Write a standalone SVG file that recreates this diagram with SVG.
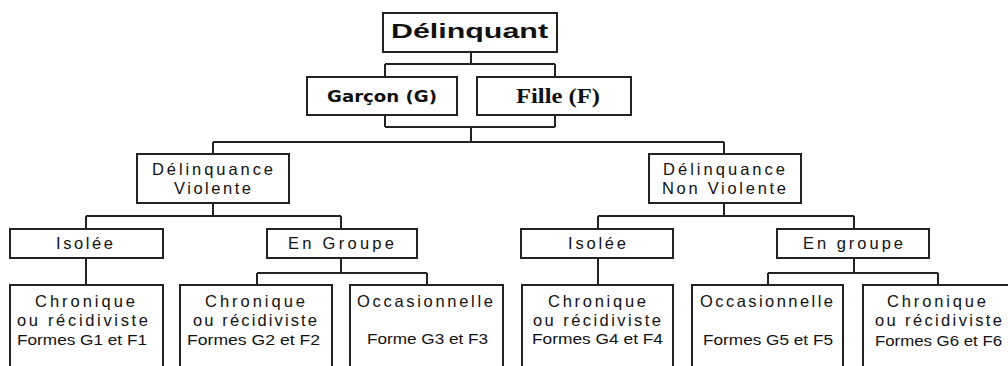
<svg xmlns="http://www.w3.org/2000/svg" width="1008" height="366" viewBox="0 0 1008 366">
<style>
.box{fill:#fff;stroke:#222;stroke-width:2}
.c{fill:none;stroke:#222;stroke-width:2}
text{font-family:"Liberation Sans",Arial,sans-serif;fill:#111;text-anchor:middle}
.t{font-size:16.5px}
.s{font-size:14px}
.h{font-family:"Liberation Sans",Arial,sans-serif;font-weight:bold;font-size:21px}
.g{font-family:"DejaVu Sans",sans-serif;font-weight:bold;font-size:16px}
.f{font-family:"Liberation Serif","Times New Roman",serif;font-weight:bold;font-size:20px}
</style>
<rect width="1008" height="366" fill="#fff"/>
<g id="connectors">
<path class="c" d="M471 52V64M385 64H555M385 64V77M555 64V77"/>
<path class="c" d="M385 115V127M555 115V127M385 127H555M471 127V142"/>
<path class="c" d="M213 142H724M213 142V154M724 142V154"/>
<path class="c" d="M213 203V216M86 216H341M86 216V229M341 216V229"/>
<path class="c" d="M724 203V216M598 216H854M598 216V229M854 216V229"/>
<path class="c" d="M86 258V285M598 258V285"/>
<path class="c" d="M341 258V273M257 273H427M257 273V285M427 273V285"/>
<path class="c" d="M854 258V273M768 273H938M768 273V285M938 273V285"/>
</g>
<g id="delinquant"><rect class="box" x="383" y="13" width="174" height="39"/><text class="h" x="469.5" y="38" textLength="157" lengthAdjust="spacingAndGlyphs">Délinquant</text></g>
<g id="garcon"><rect class="box" x="307" y="77" width="150" height="38"/><text class="g" x="382" y="102" textLength="110" lengthAdjust="spacingAndGlyphs">Garçon (G)</text></g>
<g id="fille"><rect class="box" x="477" y="77" width="154" height="38"/><text class="f" x="558" y="103" textLength="84" lengthAdjust="spacingAndGlyphs">Fille (F)</text></g>
<g id="violente"><rect class="box" x="137" y="154" width="152" height="49"/><text class="t" x="212.5" y="175" textLength="121" lengthAdjust="spacing">Délinquance</text><text class="t" x="212.5" y="194" textLength="77" lengthAdjust="spacing">Violente</text></g>
<g id="nonviolente"><rect class="box" x="649" y="154" width="152" height="49"/><text class="t" x="724" y="175" textLength="122" lengthAdjust="spacing">Délinquance</text><text class="t" x="724" y="194" textLength="124" lengthAdjust="spacing">Non Violente</text></g>
<g id="isolee1"><rect class="box" x="10" y="229" width="153" height="29"/><text class="t" x="84.5" y="249" textLength="57" lengthAdjust="spacing">Isolée</text></g>
<g id="groupe1"><rect class="box" x="267" y="229" width="150" height="29"/><text class="t" x="341" y="249" textLength="106" lengthAdjust="spacing">En Groupe</text></g>
<g id="isolee2"><rect class="box" x="521" y="229" width="152" height="29"/><text class="t" x="597" y="249" textLength="58" lengthAdjust="spacing">Isolée</text></g>
<g id="groupe2"><rect class="box" x="777" y="229" width="152" height="29"/><text class="t" x="853" y="249" textLength="100" lengthAdjust="spacing">En groupe</text></g>
<g id="f1"><rect class="box" x="10" y="285" width="153" height="100"/><text class="t" x="85" y="307" textLength="100" lengthAdjust="spacing">Chronique</text><text class="t" x="82.5" y="326" textLength="131" lengthAdjust="spacing">ou récidiviste</text><text class="s" x="82" y="345" textLength="130" lengthAdjust="spacingAndGlyphs">Formes G1 et F1</text></g>
<g id="f2"><rect class="box" x="180" y="285" width="152" height="100"/><text class="t" x="255" y="307" textLength="100" lengthAdjust="spacing">Chronique</text><text class="t" x="255" y="326" textLength="124" lengthAdjust="spacing">ou récidiviste</text><text class="s" x="253.5" y="345" textLength="133" lengthAdjust="spacingAndGlyphs">Formes G2 et F2</text></g>
<g id="f3"><rect class="box" x="350" y="285" width="153" height="100"/><text class="t" x="425" y="307" textLength="136" lengthAdjust="spacing">Occasionnelle</text><text class="s" x="427.5" y="344" textLength="121" lengthAdjust="spacingAndGlyphs">Forme G3 et F3</text></g>
<g id="f4"><rect class="box" x="522" y="285" width="151" height="100"/><text class="t" x="597" y="307" textLength="98" lengthAdjust="spacing">Chronique</text><text class="t" x="597" y="326" textLength="128" lengthAdjust="spacing">ou récidiviste</text><text class="s" x="597.5" y="344" textLength="131" lengthAdjust="spacingAndGlyphs">Formes G4 et F4</text></g>
<g id="f5"><rect class="box" x="692" y="285" width="151" height="100"/><text class="t" x="766.5" y="307" textLength="133" lengthAdjust="spacing">Occasionnelle</text><text class="s" x="768" y="345" textLength="130" lengthAdjust="spacingAndGlyphs">Formes G5 et F5</text></g>
<g id="f6"><rect class="box" x="863" y="285" width="160" height="100"/><text class="t" x="936.5" y="307" textLength="99" lengthAdjust="spacing">Chronique</text><text class="t" x="938.5" y="326" textLength="127" lengthAdjust="spacing">ou récidiviste</text><text class="s" x="938.5" y="346" textLength="127" lengthAdjust="spacingAndGlyphs">Formes G6 et F6</text></g>
</svg>
